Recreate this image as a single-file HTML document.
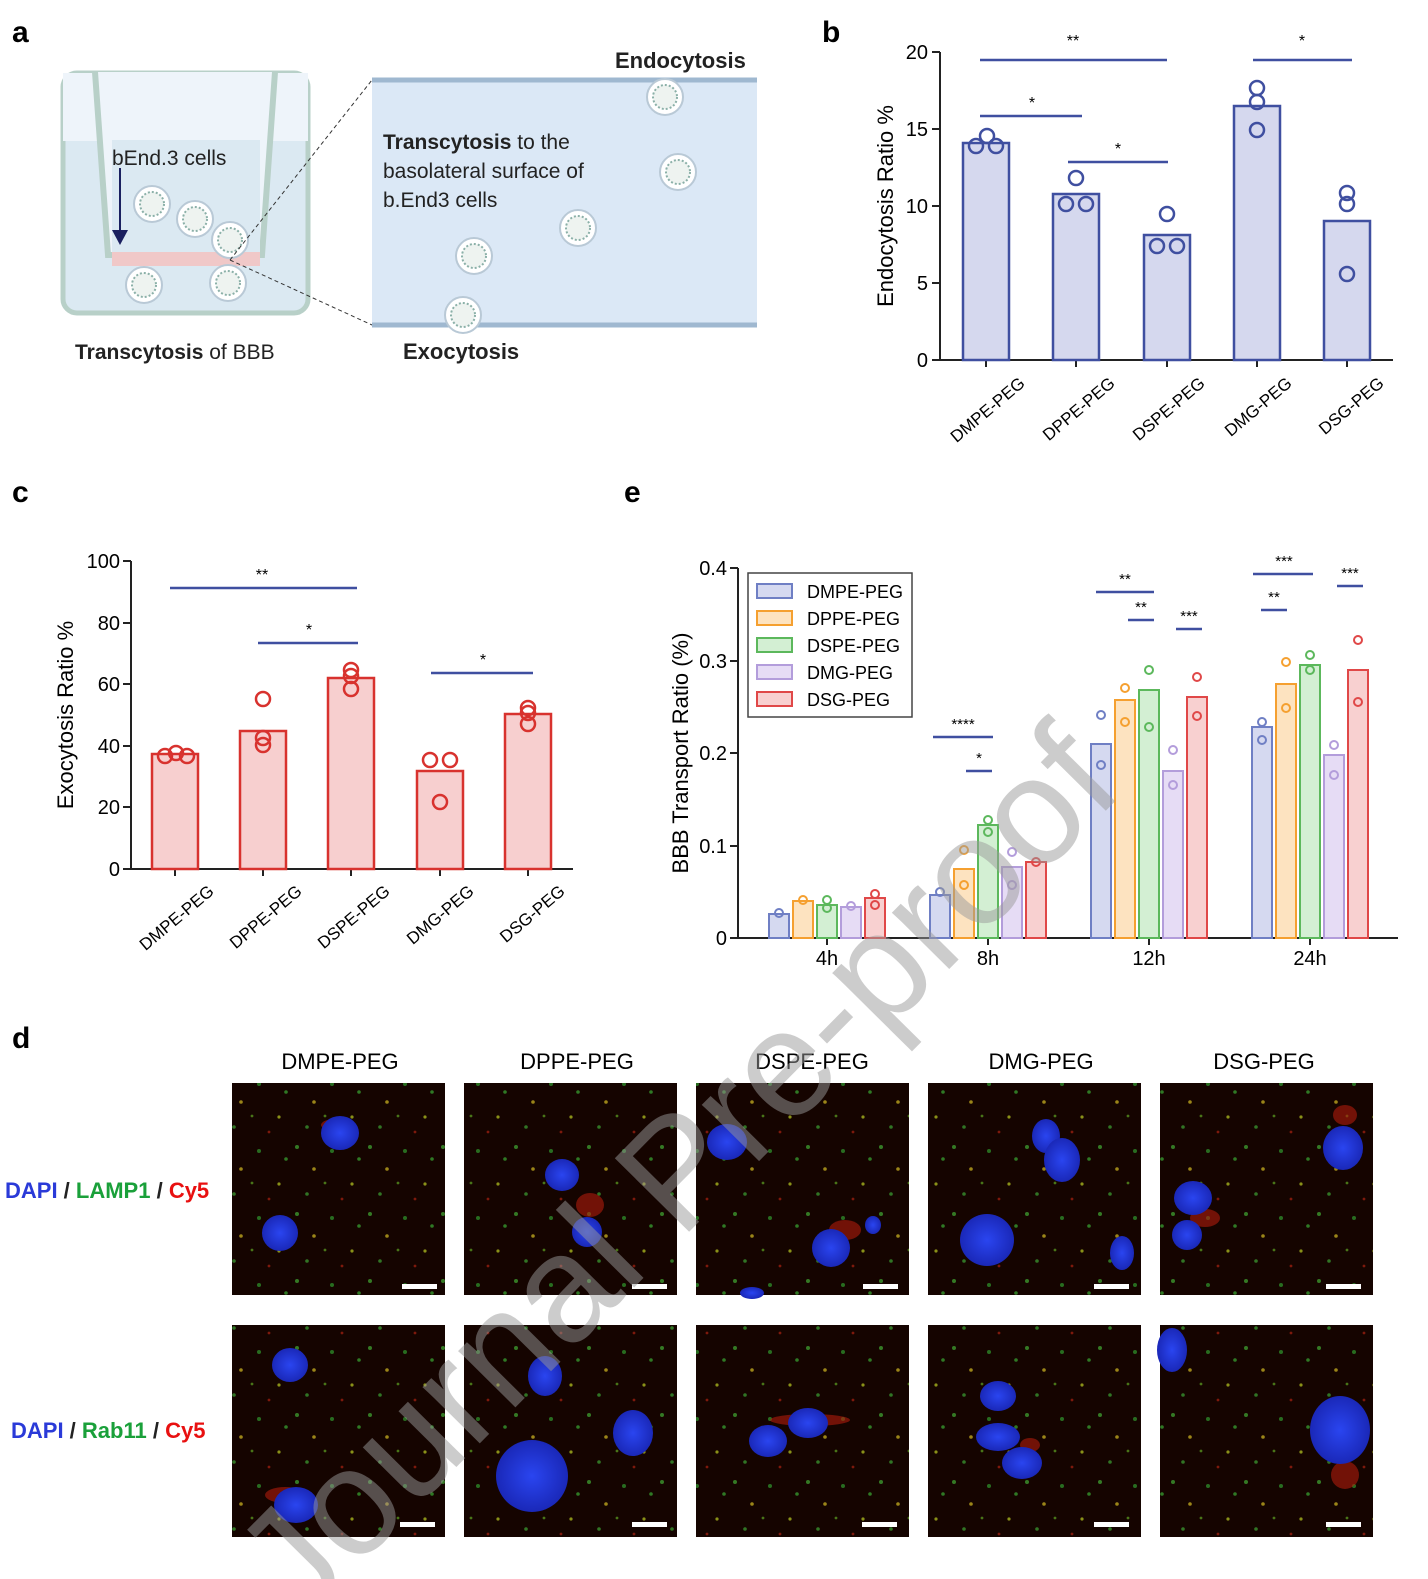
<!DOCTYPE html>
<html><head><meta charset="utf-8"><style>
body{margin:0;background:#fff}
svg{display:block;font-family:"Liberation Sans",Arial,sans-serif}
</style></head><body>
<svg width="1428" height="1579" viewBox="0 0 1428 1579" xmlns="http://www.w3.org/2000/svg">
<defs>
<pattern id="dots" width="73" height="67" patternUnits="userSpaceOnUse">
<circle cx="5" cy="8" r="2" fill="#3fa030"/><circle cx="22" cy="30" r="1.8" fill="#c8b020"/>
<circle cx="40" cy="12" r="2" fill="#2f8f2a"/><circle cx="60" cy="45" r="1.6" fill="#b0c020"/>
<circle cx="15" cy="55" r="1.8" fill="#3a9a30"/><circle cx="50" cy="60" r="1.4" fill="#a02010"/>
<circle cx="33" cy="44" r="1.4" fill="#5a9a20"/><circle cx="67" cy="20" r="1.8" fill="#38a030"/>
</pattern>
<radialGradient id="nuc"><stop offset="0" stop-color="#2a45f0"/><stop offset="1" stop-color="#1a28b8"/></radialGradient>
<g id="ves"><circle r="18" fill="#fff" stroke="#b9c9d6" stroke-width="2"/><circle r="12" fill="#eef3f0" stroke="#8bb0a8" stroke-width="2" stroke-dasharray="2 2"/></g>
</defs>

<!-- panel a -->
<text x="12" y="42" font-size="30" font-weight="bold">a</text>
<rect x="63" y="73" width="245" height="240" rx="14" fill="#dbe9f2" stroke="#b8d0c8" stroke-width="5"/>
<rect x="63" y="73" width="245" height="68" fill="#eef4fa"/>
<path d="M95 72 L108 255 L262 255 L275 72" fill="#eef4fa" stroke="#b8d0c8" stroke-width="6"/>
<rect x="112" y="140" width="148" height="115" fill="#dbe9f2"/>
<rect x="112" y="252" width="148" height="14" fill="#f0c8c8"/>
<line x1="120" y1="168" x2="120" y2="240" stroke="#1a2060" stroke-width="2"/><path d="M112 230 L128 230 L120 245Z" fill="#1a2060"/>
<text x="112" y="165" font-size="21" fill="#222">bEnd.3 cells</text>
<use href="#ves" x="152" y="204"/><use href="#ves" x="195" y="219"/><use href="#ves" x="230" y="240"/><use href="#ves" x="144" y="285"/><use href="#ves" x="228" y="283"/>
<line x1="230" y1="260" x2="372" y2="80" stroke="#333" stroke-dasharray="4 3"/>
<line x1="230" y1="260" x2="372" y2="325" stroke="#333" stroke-dasharray="4 3"/>
<rect x="372" y="80" width="385" height="247" fill="#dbe8f6"/>
<line x1="372" y1="80" x2="757" y2="80" stroke="#9fb8d0" stroke-width="5"/>
<line x1="372" y1="325" x2="757" y2="325" stroke="#9fb8d0" stroke-width="5"/>
<use href="#ves" x="665" y="97"/><use href="#ves" x="678" y="172"/><use href="#ves" x="578" y="228"/><use href="#ves" x="474" y="256"/><use href="#ves" x="463" y="315"/>
<text x="75" y="359" font-size="21" fill="#222"><tspan font-weight="bold">Transcytosis</tspan> of BBB</text>
<text x="615" y="68" font-size="22" font-weight="bold" fill="#222">Endocytosis</text>
<text x="403" y="359" font-size="22" font-weight="bold" fill="#222">Exocytosis</text>
<text x="383" y="149" font-size="21" fill="#222"><tspan font-weight="bold">Transcytosis</tspan> to the</text>
<text x="383" y="178" font-size="21" fill="#222">basolateral surface of</text>
<text x="383" y="207" font-size="21" fill="#222">b.End3 cells</text>

<!-- panel b -->
<text x="822" y="42" font-size="30" font-weight="bold">b</text>
<g stroke="#222" stroke-width="2" fill="none">
<path d="M940 52 V360 H1393"/>
<path d="M932 52H940M932 129H940M932 206H940M932 283H940M932 360H940"/>
<path d="M986 360v7M1076 360v7M1167 360v7M1257 360v7M1347 360v7"/>
</g>
<g font-size="20" text-anchor="end"><text x="928" y="59">20</text><text x="928" y="136">15</text><text x="928" y="213">10</text><text x="928" y="290">5</text><text x="928" y="367">0</text></g>
<text transform="translate(893,206) rotate(-90)" font-size="22" text-anchor="middle">Endocytosis Ratio %</text>
<g fill="#d5d8ee" stroke="#3f4fa0" stroke-width="2.5">
<rect x="963" y="143" width="46" height="217"/><rect x="1053" y="194" width="46" height="166"/><rect x="1144" y="235" width="46" height="125"/><rect x="1234" y="106" width="46" height="254"/><rect x="1324" y="221" width="46" height="139"/>
</g>
<g fill="none" stroke="#3f4fa0" stroke-width="2.5">
<circle cx="976" cy="146" r="7"/><circle cx="987" cy="136" r="7"/><circle cx="996" cy="146" r="7"/>
<circle cx="1066" cy="204" r="7"/><circle cx="1076" cy="178" r="7"/><circle cx="1086" cy="204" r="7"/>
<circle cx="1157" cy="246" r="7"/><circle cx="1167" cy="214" r="7"/><circle cx="1177" cy="246" r="7"/>
<circle cx="1257" cy="88" r="7"/><circle cx="1257" cy="130" r="7"/><circle cx="1257" cy="102" r="7"/>
<circle cx="1347" cy="193" r="7"/><circle cx="1347" cy="274" r="7"/><circle cx="1347" cy="204" r="7"/>
<path d="M980 60H1167M980 116H1082M1068 162H1168M1253 60H1352"/>
</g>
<g font-size="16" text-anchor="middle"><text x="1073" y="46">**</text><text x="1032" y="108">*</text><text x="1118" y="154">*</text><text x="1302" y="46">*</text></g>
<g font-size="17" text-anchor="end">
<text transform="translate(1026,385) rotate(-40)">DMPE-PEG</text><text transform="translate(1116,385) rotate(-40)">DPPE-PEG</text><text transform="translate(1206,385) rotate(-40)">DSPE-PEG</text><text transform="translate(1293,385) rotate(-40)">DMG-PEG</text><text transform="translate(1385,385) rotate(-40)">DSG-PEG</text>
</g>

<!-- panel c -->
<text x="12" y="502" font-size="30" font-weight="bold">c</text>
<g stroke="#222" stroke-width="2" fill="none">
<path d="M131 561 V869 H573"/>
<path d="M123 561H131M123 623H131M123 684H131M123 746H131M123 807H131M123 869H131"/>
<path d="M175 869v7M263 869v7M351 869v7M440 869v7M528 869v7"/>
</g>
<g font-size="20" text-anchor="end"><text x="120" y="568">100</text><text x="120" y="630">80</text><text x="120" y="691">60</text><text x="120" y="753">40</text><text x="120" y="814">20</text><text x="120" y="876">0</text></g>
<text transform="translate(73,715) rotate(-90)" font-size="22" text-anchor="middle">Exocytosis Ratio %</text>
<g fill="#f7cfcf" stroke="#d8322e" stroke-width="2.5">
<rect x="152" y="754" width="46" height="115"/><rect x="240" y="731" width="46" height="138"/><rect x="328" y="678" width="46" height="191"/><rect x="417" y="771" width="46" height="98"/><rect x="505" y="714" width="46" height="155"/>
</g>
<g fill="none" stroke="#d8322e" stroke-width="2.5">
<circle cx="165" cy="756" r="7"/><circle cx="176" cy="753" r="7"/><circle cx="187" cy="756" r="7"/>
<circle cx="263" cy="699" r="7"/><circle cx="263" cy="745" r="7"/><circle cx="263" cy="738" r="7"/>
<circle cx="351" cy="670" r="7"/><circle cx="351" cy="689" r="7"/><circle cx="351" cy="676" r="7"/>
<circle cx="430" cy="760" r="7"/><circle cx="450" cy="760" r="7"/><circle cx="440" cy="802" r="7"/>
<circle cx="528" cy="708" r="7"/><circle cx="528" cy="724" r="7"/><circle cx="528" cy="713" r="7"/>
</g>
<g fill="none" stroke="#3f4fa0" stroke-width="2.5"><path d="M170 588H357M258 643H358M431 673H533"/></g>
<g font-size="16" text-anchor="middle"><text x="262" y="580">**</text><text x="309" y="635">*</text><text x="483" y="665">*</text></g>
<g font-size="17" text-anchor="end">
<text transform="translate(215,893) rotate(-40)">DMPE-PEG</text><text transform="translate(303,893) rotate(-40)">DPPE-PEG</text><text transform="translate(391,893) rotate(-40)">DSPE-PEG</text><text transform="translate(475,893) rotate(-40)">DMG-PEG</text><text transform="translate(566,893) rotate(-40)">DSG-PEG</text>
</g>

<!-- panel e -->
<text x="624" y="502" font-size="30" font-weight="bold">e</text>
<g stroke="#222" stroke-width="2" fill="none">
<path d="M738 568 V938 H1398"/>
<path d="M730 568H738M730 661H738M730 753H738M730 846H738M730 938H738"/>
<path d="M827 938v7M988 938v7M1149 938v7M1310 938v7"/>
</g>
<g font-size="20" text-anchor="end"><text x="727" y="575">0.4</text><text x="727" y="668">0.3</text><text x="727" y="760">0.2</text><text x="727" y="853">0.1</text><text x="727" y="945">0</text></g>
<g font-size="20" text-anchor="middle"><text x="827" y="965">4h</text><text x="988" y="965">8h</text><text x="1149" y="965">12h</text><text x="1310" y="965">24h</text></g>
<text transform="translate(688,753) rotate(-90)" font-size="22" text-anchor="middle">BBB Transport Ratio (%)</text>
<g stroke-width="2">
<g fill="#d5d9f0" stroke="#6f7fc4"><rect x="769" y="914" width="20" height="24"/><rect x="930" y="895" width="20" height="43"/><rect x="1091" y="744" width="20" height="194"/><rect x="1252" y="727" width="20" height="211"/></g>
<g fill="#fde3c0" stroke="#f5a030"><rect x="793" y="901" width="20" height="37"/><rect x="954" y="869" width="20" height="69"/><rect x="1115" y="700" width="20" height="238"/><rect x="1276" y="684" width="20" height="254"/></g>
<g fill="#d3efd3" stroke="#5cb85c"><rect x="817" y="905" width="20" height="33"/><rect x="978" y="825" width="20" height="113"/><rect x="1139" y="690" width="20" height="248"/><rect x="1300" y="665" width="20" height="273"/></g>
<g fill="#e6dcf5" stroke="#b39ddb"><rect x="841" y="907" width="20" height="31"/><rect x="1002" y="867" width="20" height="71"/><rect x="1163" y="771" width="20" height="167"/><rect x="1324" y="755" width="20" height="183"/></g>
<g fill="#f8d0d0" stroke="#e04848"><rect x="865" y="898" width="20" height="40"/><rect x="1026" y="862" width="20" height="76"/><rect x="1187" y="697" width="20" height="241"/><rect x="1348" y="670" width="20" height="268"/></g>
</g>
<g fill="none" stroke-width="2">
<g stroke="#6f7fc4"><circle cx="779" cy="913" r="4"/><circle cx="940" cy="892" r="4"/><circle cx="1101" cy="715" r="4"/><circle cx="1101" cy="765" r="4"/><circle cx="1262" cy="722" r="4"/><circle cx="1262" cy="740" r="4"/></g>
<g stroke="#f5a030"><circle cx="803" cy="900" r="4"/><circle cx="964" cy="850" r="4"/><circle cx="964" cy="885" r="4"/><circle cx="1125" cy="688" r="4"/><circle cx="1125" cy="722" r="4"/><circle cx="1286" cy="662" r="4"/><circle cx="1286" cy="708" r="4"/></g>
<g stroke="#5cb85c"><circle cx="827" cy="900" r="4"/><circle cx="827" cy="908" r="4"/><circle cx="988" cy="820" r="4"/><circle cx="988" cy="832" r="4"/><circle cx="1149" cy="670" r="4"/><circle cx="1149" cy="727" r="4"/><circle cx="1310" cy="655" r="4"/><circle cx="1310" cy="670" r="4"/></g>
<g stroke="#b39ddb"><circle cx="851" cy="906" r="4"/><circle cx="1012" cy="852" r="4"/><circle cx="1012" cy="885" r="4"/><circle cx="1173" cy="750" r="4"/><circle cx="1173" cy="785" r="4"/><circle cx="1334" cy="745" r="4"/><circle cx="1334" cy="775" r="4"/></g>
<g stroke="#e04848"><circle cx="875" cy="894" r="4"/><circle cx="875" cy="905" r="4"/><circle cx="1036" cy="862" r="4"/><circle cx="1197" cy="677" r="4"/><circle cx="1197" cy="716" r="4"/><circle cx="1358" cy="640" r="4"/><circle cx="1358" cy="702" r="4"/></g>
</g>
<g fill="none" stroke="#3f4fa0" stroke-width="2.5"><path d="M933 737H993M966 771H992M1096 592H1154M1128 620H1154M1176 629H1202M1253 574H1313M1261 610H1287M1337 586H1363"/></g>
<g font-size="15" text-anchor="middle"><text x="963" y="729">****</text><text x="979" y="763">*</text><text x="1125" y="584">**</text><text x="1141" y="612">**</text><text x="1189" y="621">***</text><text x="1284" y="566">***</text><text x="1274" y="602">**</text><text x="1350" y="578">***</text></g>
<rect x="748" y="573" width="164" height="144" fill="#fff" stroke="#444" stroke-width="1.5"/>
<g stroke-width="2"><rect x="757" y="584" width="35" height="14" fill="#d5d9f0" stroke="#6f7fc4"/><rect x="757" y="611" width="35" height="14" fill="#fde3c0" stroke="#f5a030"/><rect x="757" y="638" width="35" height="14" fill="#d3efd3" stroke="#5cb85c"/><rect x="757" y="665" width="35" height="14" fill="#e6dcf5" stroke="#b39ddb"/><rect x="757" y="692" width="35" height="14" fill="#f8d0d0" stroke="#e04848"/></g>
<g font-size="18"><text x="807" y="598">DMPE-PEG</text><text x="807" y="625">DPPE-PEG</text><text x="807" y="652">DSPE-PEG</text><text x="807" y="679">DMG-PEG</text><text x="807" y="706">DSG-PEG</text></g>

<!-- panel d -->
<text x="12" y="1048" font-size="30" font-weight="bold">d</text>
<g font-size="22" text-anchor="middle"><text x="340" y="1069">DMPE-PEG</text><text x="577" y="1069">DPPE-PEG</text><text x="812" y="1069">DSPE-PEG</text><text x="1041" y="1069">DMG-PEG</text><text x="1264" y="1069">DSG-PEG</text></g>
<text x="5" y="1198" font-size="22" font-weight="bold"><tspan fill="#2a3ad8">DAPI</tspan><tspan fill="#222"> / </tspan><tspan fill="#1aa03a">LAMP1</tspan><tspan fill="#222"> / </tspan><tspan fill="#e81010">Cy5</tspan></text>
<text x="11" y="1438" font-size="22" font-weight="bold"><tspan fill="#2a3ad8">DAPI</tspan><tspan fill="#222"> / </tspan><tspan fill="#1aa03a">Rab11</tspan><tspan fill="#222"> / </tspan><tspan fill="#e81010">Cy5</tspan></text>
<g>
<rect x="232" y="1083" width="213" height="212" fill="#150400"/><rect x="464" y="1083" width="213" height="212" fill="#150400"/><rect x="696" y="1083" width="213" height="212" fill="#150400"/><rect x="928" y="1083" width="213" height="212" fill="#150400"/><rect x="1160" y="1083" width="213" height="212" fill="#150400"/>
<rect x="232" y="1325" width="213" height="212" fill="#150400"/><rect x="464" y="1325" width="213" height="212" fill="#150400"/><rect x="696" y="1325" width="213" height="212" fill="#150400"/><rect x="928" y="1325" width="213" height="212" fill="#150400"/><rect x="1160" y="1325" width="213" height="212" fill="#150400"/>
</g>
<g opacity="0.75">
<rect x="232" y="1083" width="213" height="212" fill="url(#dots)"/><rect x="464" y="1083" width="213" height="212" fill="url(#dots)"/><rect x="696" y="1083" width="213" height="212" fill="url(#dots)"/><rect x="928" y="1083" width="213" height="212" fill="url(#dots)"/><rect x="1160" y="1083" width="213" height="212" fill="url(#dots)"/>
<rect x="232" y="1325" width="213" height="212" fill="url(#dots)"/><rect x="464" y="1325" width="213" height="212" fill="url(#dots)"/><rect x="696" y="1325" width="213" height="212" fill="url(#dots)"/><rect x="928" y="1325" width="213" height="212" fill="url(#dots)"/><rect x="1160" y="1325" width="213" height="212" fill="url(#dots)"/>
</g>
<g fill="#b01c0c" opacity="0.6">
<ellipse cx="335" cy="1125" rx="14" ry="6"/><ellipse cx="590" cy="1205" rx="14" ry="12"/><ellipse cx="845" cy="1230" rx="16" ry="10"/><ellipse cx="1205" cy="1218" rx="15" ry="9"/><ellipse cx="1345" cy="1115" rx="12" ry="10"/>
<ellipse cx="285" cy="1495" rx="20" ry="8"/><ellipse cx="810" cy="1420" rx="40" ry="6"/><ellipse cx="1030" cy="1445" rx="10" ry="7"/><ellipse cx="1345" cy="1475" rx="14" ry="14"/>
</g>
<g fill="url(#nuc)">
<ellipse cx="340" cy="1133" rx="19" ry="17"/><ellipse cx="280" cy="1233" rx="18" ry="18"/>
<ellipse cx="562" cy="1175" rx="17" ry="16"/><ellipse cx="587" cy="1232" rx="15" ry="15"/>
<ellipse cx="727" cy="1142" rx="20" ry="18"/><ellipse cx="831" cy="1248" rx="19" ry="19"/><ellipse cx="873" cy="1225" rx="8" ry="9"/><ellipse cx="752" cy="1293" rx="12" ry="6"/>
<ellipse cx="1046" cy="1136" rx="14" ry="17"/><ellipse cx="1062" cy="1160" rx="18" ry="22"/><ellipse cx="987" cy="1240" rx="27" ry="26"/><ellipse cx="1122" cy="1253" rx="12" ry="17"/>
<ellipse cx="1343" cy="1148" rx="20" ry="22"/><ellipse cx="1193" cy="1198" rx="19" ry="17"/><ellipse cx="1187" cy="1235" rx="15" ry="15"/>
<ellipse cx="290" cy="1365" rx="18" ry="17"/><ellipse cx="296" cy="1505" rx="22" ry="18"/>
<ellipse cx="545" cy="1376" rx="17" ry="20"/><ellipse cx="633" cy="1433" rx="20" ry="23"/><ellipse cx="532" cy="1476" rx="36" ry="36"/>
<ellipse cx="768" cy="1441" rx="19" ry="16"/><ellipse cx="808" cy="1423" rx="20" ry="15"/>
<ellipse cx="998" cy="1396" rx="18" ry="15"/><ellipse cx="998" cy="1437" rx="22" ry="14"/><ellipse cx="1022" cy="1463" rx="20" ry="16"/>
<ellipse cx="1172" cy="1350" rx="15" ry="22"/><ellipse cx="1340" cy="1430" rx="30" ry="34"/>
</g>
<g fill="#fff">
<rect x="402" y="1284" width="35" height="5"/><rect x="632" y="1284" width="35" height="5"/><rect x="863" y="1284" width="35" height="5"/><rect x="1094" y="1284" width="35" height="5"/><rect x="1326" y="1284" width="35" height="5"/>
<rect x="400" y="1522" width="35" height="5"/><rect x="632" y="1522" width="35" height="5"/><rect x="862" y="1522" width="35" height="5"/><rect x="1094" y="1522" width="35" height="5"/><rect x="1326" y="1522" width="35" height="5"/>
</g>

<!-- watermark -->
<text transform="translate(300,1625) rotate(-45.3)" font-size="152" fill="#999" fill-opacity="0.5">Journal Pre-proof</text>
</svg>
</body></html>
